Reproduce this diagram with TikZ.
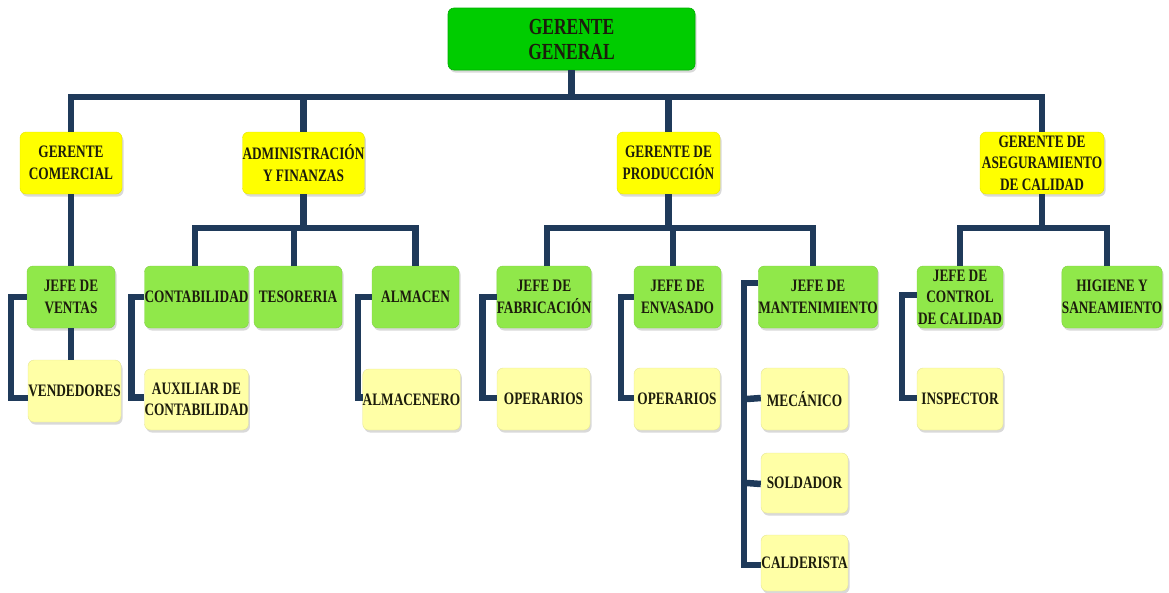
\documentclass[tikz,border=0pt]{standalone}
\usepackage{fontspec}
\newfontfamily\boxfont{Liberation Serif}[FakeStretch=0.76]
\usetikzlibrary{shadows}
\definecolor{navy}{HTML}{1F3A5A}
\definecolor{topgreen}{HTML}{00CC00}
\definecolor{lvlyellow}{HTML}{FFFF00}
\definecolor{lvlgreen}{HTML}{90E84A}
\definecolor{lvlpale}{HTML}{FFFFA6}
\definecolor{ink}{HTML}{1C1C0C}
\tikzset{
  box/.style={rounded corners=6pt, inner xsep=0pt, inner ysep=0pt, align=center,
    text=ink, font=\boxfont\bfseries\fontsize{17.5}{21.5}\selectfont,
    drop shadow={shadow xshift=1.5pt, shadow yshift=-2.5pt, opacity=0.25, fill=black!60}},
  chief/.style={box, fill=topgreen, draw=topgreen!85!black, line width=0.6pt,
    font=\boxfont\bfseries\fontsize{23}{25}\selectfont},
  manager/.style={box, fill=lvlyellow, draw=lvlyellow!90!black, line width=0.4pt},
  head/.style={box, fill=lvlgreen, draw=lvlgreen!90!black, line width=0.4pt},
  staff/.style={box, fill=lvlpale, draw=lvlpale!90!black, line width=0.4pt},
  conn/.style={draw=navy, line width=6.5pt, line join=miter},
}
\begin{document}
\begin{tikzpicture}[x=1pt, y=-1pt]
\useasboundingbox (0,0) rectangle (1169,592);

% bus lines
\coordinate (bus0) at (571.5,97);
\coordinate (busA) at (303.5,228);
\coordinate (busP) at (668.5,228);
\coordinate (busQ) at (1042,228);

% top
\node[chief, minimum width=247pt, minimum height=62pt] (gg) at (571.5,39) {GERENTE\\GENERAL};

% managers
\node[manager, minimum width=102pt, minimum height=62pt] (gc) at (71,163) {GERENTE\\COMERCIAL};
\node[manager, minimum width=121pt, minimum height=62pt] (af) at (303.5,163) {ADMINISTRACIÓN\\Y FINANZAS};
\node[manager, minimum width=103pt, minimum height=62pt] (gp) at (668.5,163) {GERENTE DE\\PRODUCCIÓN};
\node[manager, minimum width=124pt, minimum height=62pt] (ga) at (1042,163) {GERENTE DE\\ASEGURAMIENTO\\DE CALIDAD};

% heads
\node[head, minimum width=88pt, minimum height=62pt] (jv) at (71,297) {JEFE DE\\VENTAS};
\node[head, minimum width=103pt, minimum height=62pt] (cont) at (196.5,297) {CONTABILIDAD};
\node[head, minimum width=88pt, minimum height=62pt] (tes) at (298,297) {TESORERIA};
\node[head, minimum width=87pt, minimum height=62pt] (alm) at (415.5,297) {ALMACEN};
\node[head, minimum width=94pt, minimum height=62pt] (jf) at (544,297) {JEFE DE\\FABRICACIÓN};
\node[head, minimum width=87pt, minimum height=62pt] (je) at (677.5,297) {JEFE DE\\ENVASADO};
\node[head, minimum width=118pt, minimum height=62pt] (jm) at (818,297) {JEFE DE\\MANTENIMIENTO};
\node[head, minimum width=86pt, minimum height=62pt] (jc) at (960,297) {JEFE DE\\CONTROL\\DE CALIDAD};
\node[head, minimum width=100pt, minimum height=62pt] (hs) at (1112,297) {HIGIENE Y\\SANEAMIENTO};

% staff
\node[staff, minimum width=93pt, minimum height=62pt] (vend) at (74.5,391) {VENDEDORES};
\node[staff, minimum width=103pt, minimum height=61pt] (aux) at (196.5,399.5) {AUXILIAR DE\\CONTABILIDAD};
\node[staff, minimum width=97pt, minimum height=61pt] (almc) at (411.5,399.5) {ALMACENERO};
\node[staff, minimum width=93pt, minimum height=62pt] (op1) at (543.5,399) {OPERARIOS};
\node[staff, minimum width=86pt, minimum height=62pt] (op2) at (677,399) {OPERARIOS};
\node[staff, minimum width=87pt, minimum height=62pt] (mec) at (804.5,399) {MECÁNICO};
\node[staff, minimum width=87pt, minimum height=60pt] (sol) at (804.5,483) {SOLDADOR};
\node[staff, minimum width=87pt, minimum height=56pt] (cal) at (804.5,563) {CALDERISTA};
\node[staff, minimum width=86pt, minimum height=62pt] (insp) at (960,399) {INSPECTOR};

% connectors: general manager to managers
\draw[conn] (gg.south) -- (bus0);
\foreach \m in {gc,af,gp,ga} \draw[conn] (\m.north) |- (bus0);

% commercial branch
\draw[conn] (gc.south) -- (jv.north);
\draw[conn] (jv.south) -- (jv.south |- vend.north);
\draw[conn] (jv.west) -- ++(-16,0) |- ([yshift=-7pt]vend.west);

% administration branch
\draw[conn] (af.south) -- (busA);
\draw[conn] ([xshift=-1.5pt]cont.north) |- (busA);
\draw[conn] ([xshift=-4pt]tes.north) |- (busA);
\draw[conn] (alm.north) |- (busA);
\draw[conn] (cont.west) -- ++(-13,0) |- ([yshift=2pt]aux.west);
\draw[conn] (alm.west) -- ++(-14,0) |- ([yshift=2pt]almc.west);

% production branch
\draw[conn] (gp.south) -- (busP);
\draw[conn] ([xshift=3pt]jf.north) |- (busP);
\draw[conn] ([xshift=-4.5pt]je.north) |- (busP);
\draw[conn] ([xshift=-5pt]jm.north) |- (busP);
\draw[conn] (jf.west) -- ++(-14,0) |- ([yshift=1pt]op1.west);
\draw[conn] (je.west) -- ++(-13,0) |- ([yshift=1pt]op2.west);
\draw[conn] ([yshift=14pt]jm.west) -- ++(-14,0) |- ([yshift=-2pt]cal.west);
\draw[conn] ([xshift=-14pt]mec.west) -- ([yshift=1pt]mec.west);
\draw[conn] ([xshift=-14pt]sol.west) -- ([yshift=-1pt]sol.west);

% quality branch
\draw[conn] (ga.south) -- (busQ);
\draw[conn] (jc.north) |- (busQ);
\draw[conn] ([xshift=-5pt]hs.north) |- (busQ);
\draw[conn] ([yshift=2pt]jc.west) -- ++(-15,0) |- ([yshift=1pt]insp.west);
\end{tikzpicture}
\end{document}
